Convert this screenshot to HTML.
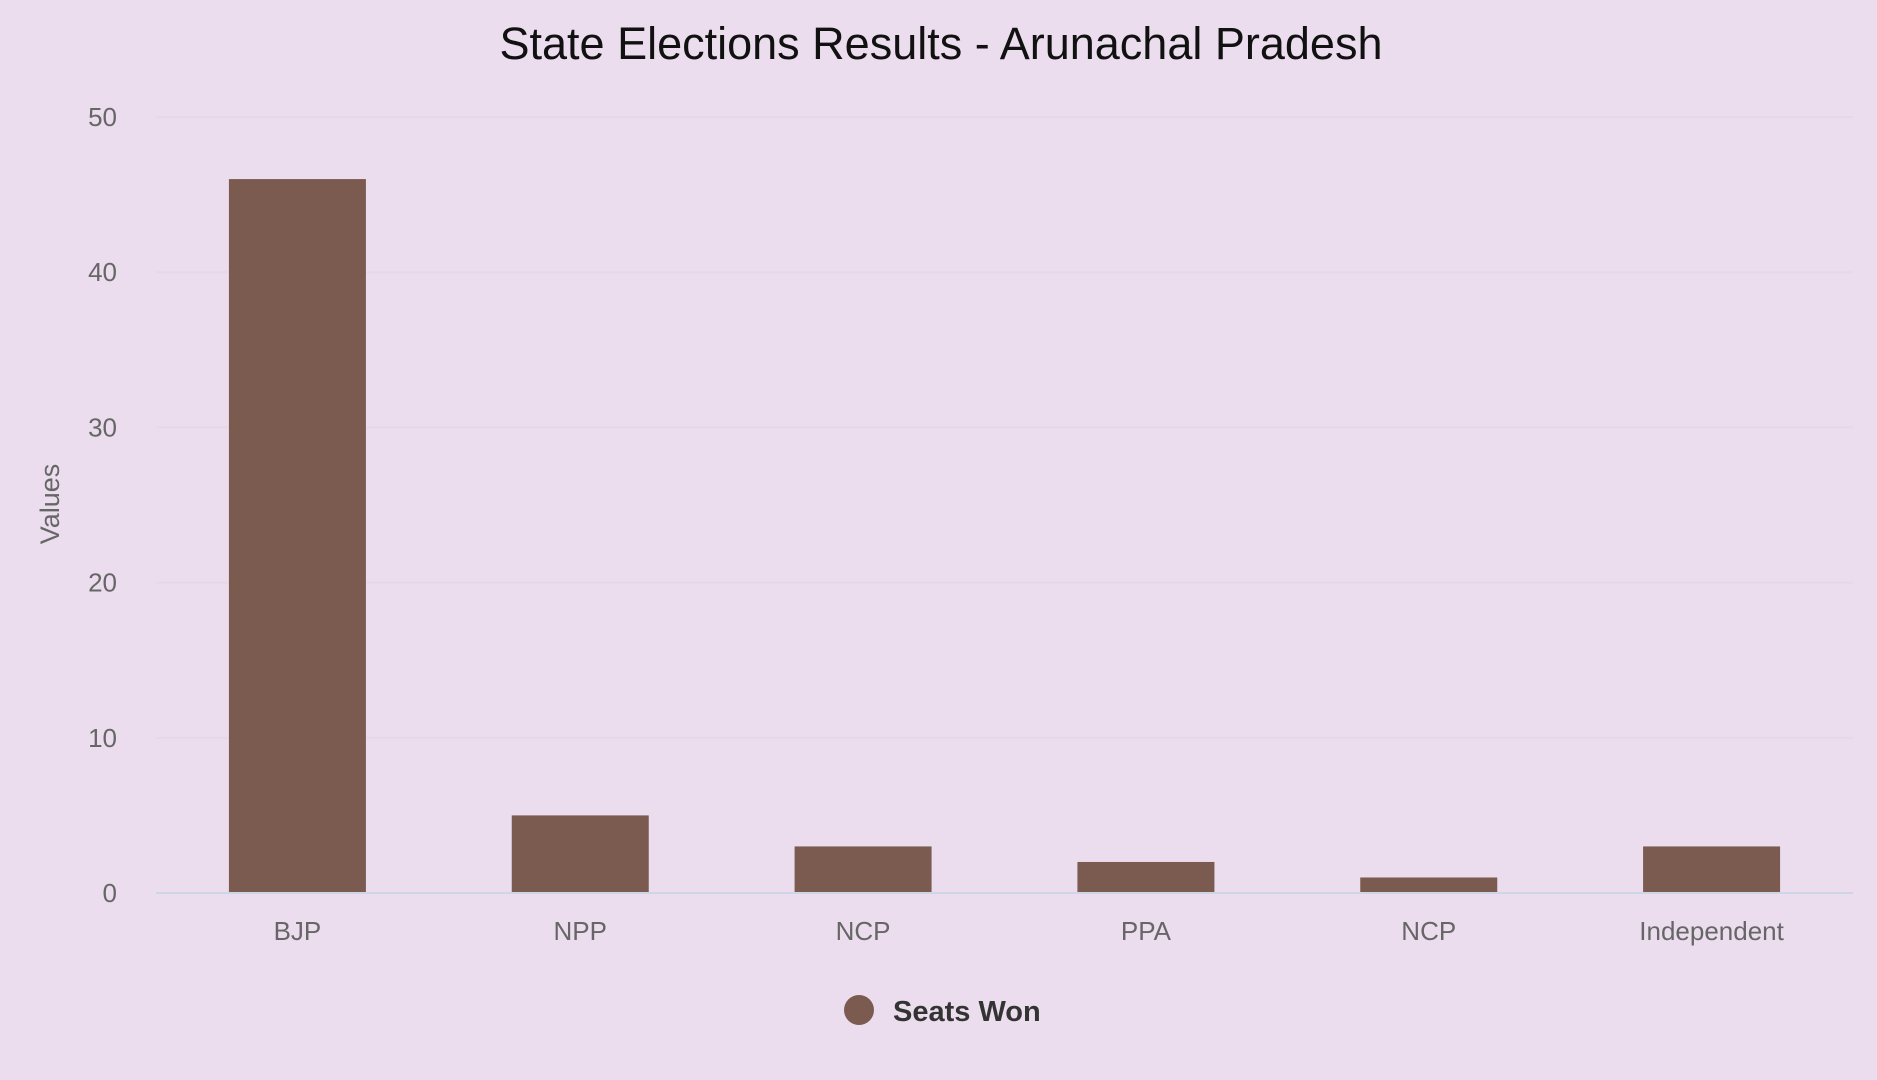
<!DOCTYPE html>
<html><head><meta charset="utf-8"><style>
body{margin:0;background:#EBDDEE;}
svg{display:block;font-family:"Liberation Sans",sans-serif;}
</style></head><body>
<svg width="1877" height="1080">
<rect width="1877" height="1080" fill="#EBDDEE"/>
<text x="941" y="59" text-anchor="middle" font-size="45" fill="#111">State Elections Results - Arunachal Pradesh</text>
<text transform="translate(59,504) rotate(-90)" text-anchor="middle" font-size="27" fill="#666">Values</text>
<g id="grid"></g><g id="bars"></g><g id="xl"></g>
<line x1="156" x2="1853" y1="893" y2="893" stroke="#CDD6E6" stroke-width="2"/>
<circle cx="859" cy="1010" r="15" fill="#7B5B4F"/>
<text x="893" y="1021" font-size="29" font-weight="bold" fill="#333">Seats Won</text>
</svg>
<script>
const categories=["BJP","NPP","NCP","PPA","NCP","Independent"];
const seatsWon=[46,5,3,2,1,3];
const yTicks=[0,10,20,30,40,50];
const L=156,R=1853,B=893,T=117,maxV=50;
const y=v=>B-(B-T)*v/maxV;
const band=(R-L)/categories.length;
const ns="http://www.w3.org/2000/svg";
const g=document.getElementById('grid'),b=document.getElementById('bars'),xl=document.getElementById('xl');
yTicks.forEach(t=>{
 if(t>0){const l=document.createElementNS(ns,'line');
 l.setAttribute('x1',L);l.setAttribute('x2',R);l.setAttribute('y1',y(t));l.setAttribute('y2',y(t));
 l.setAttribute('stroke','#E4DAE6');l.setAttribute('stroke-width','2');
 
 
 g.appendChild(l);}
 const tx=document.createElementNS(ns,'text');
 tx.setAttribute('x',117);tx.setAttribute('y',y(t)+9);tx.setAttribute('text-anchor','end');
 tx.setAttribute('font-size','26');tx.setAttribute('fill','#666');tx.textContent=t;
 
 
 g.appendChild(tx);
});
categories.forEach((c,i)=>{
 const cx=L+band*(i+0.5),w=137;
 const r=document.createElementNS(ns,'rect');
 r.setAttribute('x',cx-w/2);r.setAttribute('width',w);r.setAttribute('y',y(seatsWon[i]));r.setAttribute('height',B-y(seatsWon[i]));
 r.setAttribute('fill','#7B5B4F');
 
 
 b.appendChild(r);
 const tx=document.createElementNS(ns,'text');
 tx.setAttribute('x',cx);tx.setAttribute('y',940);tx.setAttribute('text-anchor','middle');
 tx.setAttribute('font-size','26');tx.setAttribute('fill','#666');tx.textContent=c;
 
 
 xl.appendChild(tx);
});
</script>
</body></html>
